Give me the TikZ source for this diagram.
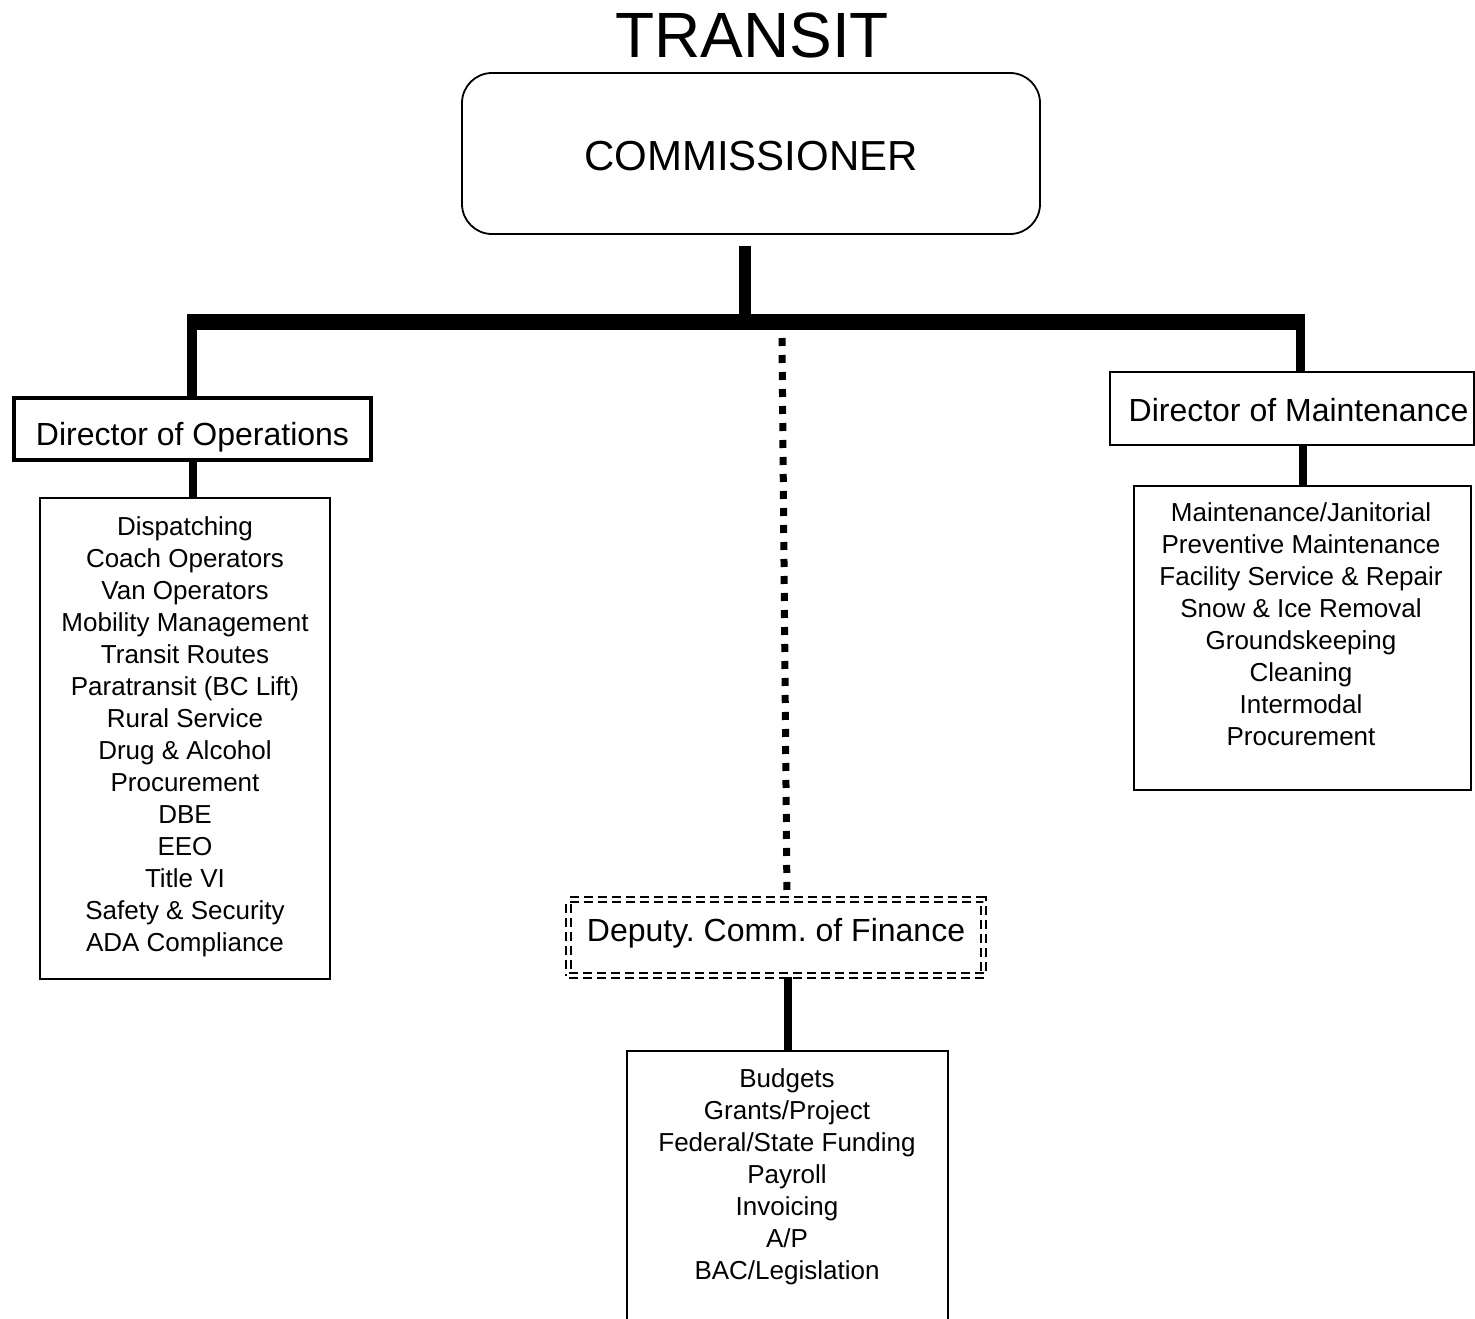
\documentclass[tikz,border=0pt]{standalone}
\usepackage{fontspec}
\setmainfont{Liberation Sans}

\begin{document}
\frenchspacing
\begin{tikzpicture}[>=stealth,x=1pt,y=-1pt,
  box/.style={draw,line width=1.8pt,inner sep=0pt},
  headbox/.style={box,text depth=0pt,font=\fontsize{32}{38}\selectfont},
  items/.style={align=center,inner sep=0pt,anchor=north,font=\fontsize{26}{32}\selectfont},
  dotline/.style={line width=7pt,dash pattern=on 8pt off 9pt}]

\useasboundingbox (0,0) rectangle (1475,1319);

\node(title) at (752,35) {\fontsize{64}{70}\selectfont TRANSIT};
\node(comm) at (751,153.5)[box,rounded corners=30pt,minimum width=578pt,minimum height=161pt,text height=33pt,text depth=0pt,font=\fontsize{42}{48}\selectfont] {COMMISSIONER};

\node(ops) at (192.5,429)[headbox,line width=3.5pt,minimum width=357pt,minimum height=62pt,text height=33pt] {Director of Operations};
\node(maint) at (1292,408.5)[box,minimum width=364pt,minimum height=73pt] {};
\node(maintlabel) at (1298.5,408.5)[inner sep=0pt,text height=26pt,text depth=0pt,font=\fontsize{32}{38}\selectfont] {Director of Maintenance};
\node(dep) at (776,937.5)[headbox,double,line width=2.3pt,double distance=2.2pt,dash pattern=on 9pt off 5pt,minimum width=415pt,minimum height=76pt,text height=8pt] {Deputy. Comm. of Finance};

\node(opsbox) at (185,738.5)[box,minimum width=290pt,minimum height=481pt] {};
\node(opslist) at (185,516)[items] {Dispatching \\ Coach Operators \\ Van Operators \\ Mobility Management \\ Transit Routes \\ Paratransit (BC Lift) \\ Rural Service \\ Drug \& Alcohol \\ Procurement \\ DBE \\ EEO \\ Title VI \\ Safety \& Security \\ ADA Compliance};

\node(maintbox) at (1302.5,638)[box,minimum width=337pt,minimum height=304pt] {};
\node(maintlist) at (1301,502)[items] {Maintenance/Janitorial \\ Preventive Maintenance \\ Facility Service \& Repair \\ Snow \& Ice Removal \\ Groundskeeping \\ Cleaning \\ Intermodal \\ Procurement};

\node(finbox) at (787.5,1211)[box,minimum width=321pt,minimum height=320pt] {};
\node(finlist) at (787,1068)[items] {Budgets \\ Grants/Project \\ Federal/State Funding \\ Payroll \\ Invoicing \\ A/P \\ BAC/Legislation};

\coordinate(ctop) at (745,246);
\coordinate(split) at (745,322);
\coordinate(lleg) at (192,314);
\coordinate(rleg) at (1300,314);
\coordinate(dtop) at (782,338);

\draw[line width=12pt] (ctop) -- (split);
\draw[line width=16pt] ([xshift=-5pt]lleg |- split) -- ([xshift=5pt]rleg |- split);
\draw[line width=10pt] (lleg) -- (lleg |- ops.north);
\draw[line width=9pt] (rleg) -- (rleg |- maint.north);
\draw[dotline] (dtop) -- ([xshift=11pt]dep.north);

\draw[line width=8pt] (ops.south) -- (ops.south |- opsbox.north);
\draw[line width=8pt] (maintbox.north |- maint.south) -- (maintbox.north);
\draw[line width=8pt] (finbox.north |- dep.south) -- (finbox.north);

\end{tikzpicture}
\end{document}
